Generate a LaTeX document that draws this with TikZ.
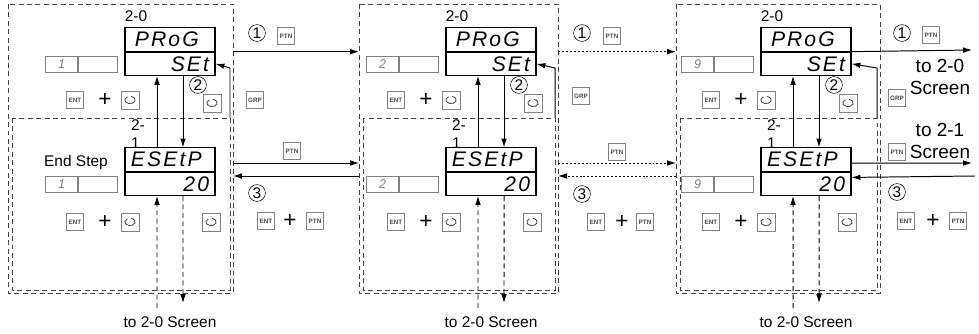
\documentclass[tikz,border=0pt]{standalone}
\usepackage{fontspec}
\setmainfont{Liberation Sans}
\newfontfamily\segfont{Liberation Sans}[LetterSpace=10]
\usepackage{tikz}
\usetikzlibrary{arrows.meta,positioning}
\definecolor{keygray}{RGB}{130,130,130}
\definecolor{keytext}{RGB}{70,70,70}
\newcommand{\dispfont}{\segfont\itshape\fontsize{15}{16}\selectfont}

\begin{document}
\begin{tikzpicture}[x=0.025cm, y=-0.025cm,
    >={Latex[length=2.2mm,width=1.4mm]},
    disp/.style={draw, thick, minimum width=2.25cm, minimum height=0.58cm, inner sep=0pt, text width=1.95cm, font=\dispfont},
    cell/.style={draw=keygray, minimum height=0.4cm, inner sep=0pt, font=\segfont\itshape\fontsize{9}{10}\selectfont, text=keygray},
    key/.style={draw=keygray, minimum size=0.42cm, inner sep=0pt, font=\fontsize{4.5}{5}\selectfont\bfseries, text=keytext},
    rotkey/.style={key, minimum size=0.46cm, path picture={
        \draw[keytext, line width=0.6pt] ([shift={(120:0.13cm and 0.09cm)}]path picture bounding box.center)
          arc[start angle=120, end angle=440, x radius=0.13cm, y radius=0.09cm];}},
    num/.style={circle, draw, inner sep=0pt, minimum size=0.42cm, font=\fontsize{11}{12}\selectfont},
    lbl/.style={font=\fontsize{11}{13}\selectfont},
    plus/.style={font=\fontsize{16}{16}\selectfont, inner sep=0pt},
    big/.style={font=\fontsize{13.5}{16}\selectfont, align=center},
    flow/.style={->, line width=0.7pt},
    dots/.style={dash pattern=on 1.4pt off 1.4pt},
    longdash/.style={dash pattern=on 3.5pt off 2.5pt},
    box/.style={longdash, line width=0.6pt, draw=black!75}]
    \useasboundingbox (0,0) rectangle (979,334);

    % --- three panels: 2-0 PRoG SEt over 2-1 ESEtP ---
    \foreach \i/\dx/\L/\R/\stepno in {1/0/8/233/1, 2/321/38/237/2, 3/636/40/244/9} {
        \begin{scope}[shift={(\dx,0)}]
            \draw[box] (\L,4) rectangle (\R,293);
            \draw[box] ({\L+4},118) rectangle ({\R-3},290);
            \coordinate (bl\i) at (\L,0);
            \coordinate (br\i) at (\R,0);
            % upper display
            \node[lbl] (t20\i) at (136,16) {2-0};
            \node[disp, align=left] (prog\i) at (170,39.5) {\hspace{0.1cm}PRoG};
            \node[disp, align=right, below=0pt of prog\i] (set\i) {SEt};
            \node[cell, minimum width=0.975cm, left=0.175cm of set\i] (sbu\i) {};
            \node[cell, minimum width=0.8cm, left=0pt of sbu\i] (sau\i) {\stepno};
            \node[key] (entu\i) at (75,100) {ENT};
            \node[plus] (plu\i) at (105,100) {+};
            \node[rotkey] (rotu\i) at (130,100) {};
            \node[num] (ctwo\i) at (198,85) {2};
            \node[rotkey] (rotr\i) at (212,103) {};
            % lower display
            \node[lbl, align=left] (t21\i) at (138,134) {2-\\1};
            \node[disp, align=left] (esetp\i) at (170,159.5) {ESEtP};
            \node[disp, align=right, below=0pt of esetp\i] (val\i) {20};
            \node[cell, minimum width=0.975cm, left=0.175cm of val\i] (sbl\i) {};
            \node[cell, minimum width=0.8cm, left=0pt of sbl\i] (sal\i) {\stepno};
            \node[key] (entl\i) at (75,222) {ENT};
            \node[plus] (pll\i) at (105,222) {+};
            \node[rotkey] (rotl\i) at (130,222) {};
            \node[rotkey] (rotm\i) at (211,222) {};
            % arrows inside the panel
            \draw[flow] ([xshift=-0.325cm]esetp\i.north) -- ([xshift=-0.325cm]set\i.south);
            \draw[flow] ([xshift=0.325cm]set\i.south) -- ([xshift=0.325cm]esetp\i.north);
            \coordinate (gr\i) at ({\R-3},118);
            \draw[flow] (gr\i) -- ({\R-3},68) -- (set\i.east);
            \coordinate (up\i) at (157,308);
            \coordinate (dn\i) at (183,303);
            \draw[flow, longdash] (up\i) -- ([xshift=-0.325cm]val\i.south);
            \draw[flow, longdash] ([xshift=0.325cm]val\i.south) -- (dn\i);
            \node[lbl] (to\i) at (170,322) {to 2-0 Screen};
        \end{scope}
    }
    \node[lbl] (endstep) at (76,163) {End Step};

    % --- panel 1 to panel 2 ---
    \node[num] (onea) at (257,33) {1};
    \node[key] (ptna) at (286,36) {PTN};
    \draw[flow] (br1 |- prog1.south) -- (bl2 |- prog1.south);
    \node[key] (grpa) at (255,100) {GRP};
    \node[key] (ptnb) at (292,151) {PTN};
    \draw[flow] (br1 |- 0,163) -- (bl2 |- 0,163);
    \draw[flow] (bl2 |- 0,176) -- (br1 |- 0,176);
    \node[num] (threea) at (257,193) {3};
    \node[key] (enta) at (266,221) {ENT};
    \node[plus] (pla) at (290,221) {+};
    \node[key] (ptnc) at (315,221) {PTN};

    % --- panel 2 to panel 3 ---
    \node[num] (oneb) at (582,33) {1};
    \node[key] (ptnd) at (612,36) {PTN};
    \draw[flow, dots] (br2 |- prog2.south) -- (bl3 |- prog2.south);
    \node[key] (grpb) at (581,96) {GRP};
    \node[key] (ptne) at (617,152) {PTN};
    \draw[flow, dots] (br2 |- 0,163) -- (bl3 |- 0,163);
    \draw[flow, dots] (bl3 |- 0,176) -- (br2 |- 0,176);
    \node[num] (threeb) at (582,194) {3};
    \node[key] (entb) at (596,222) {ENT};
    \node[plus] (plb) at (622,222) {+};
    \node[key] (ptnf) at (645,222) {PTN};

    % --- panel 3 to the right ---
    \node[num] (onec) at (902,33) {1};
    \node[key] (ptng) at (931,35) {PTN};
    \coordinate (xa) at (972,50);
    \draw[flow] (prog3.south east) -- (xa);
    \node[big] (toa) at (940,77) {to 2-0\\Screen};
    \node[key] (grpc) at (897,98) {GRP};
    \node[big] (tob) at (940,141) {to 2-1\\Screen};
    \node[key] (ptnh) at (897,152) {PTN};
    \coordinate (xb) at (972,163);
    \draw[flow] ([yshift=-0.09cm]esetp3.east) -- (xb);
    \coordinate (xc) at (975,176);
    \draw[flow] (xc) -- ([yshift=0.16cm]val3.east);
    \node[num] (threec) at (897,192) {3};
    \node[key] (entc) at (906,221) {ENT};
    \node[plus] (plc) at (933,221) {+};
    \node[key] (ptni) at (958,221) {PTN};
\end{tikzpicture}
\end{document}
